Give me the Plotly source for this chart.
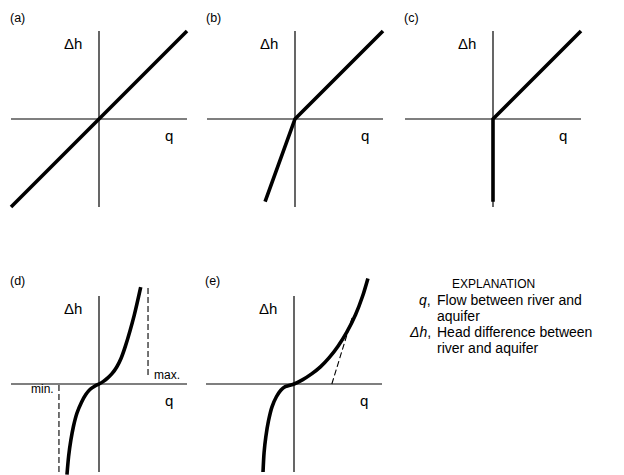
import plotly.graph_objects as go

# page has an 8px body margin, so the figure is drawn 8px in from the corner
OFF = 8
W, H = 624 - OFF, 475 - OFF
S = 88  # pixels per unit of q and of dh, same in every panel

# extent of the drawn q and dh axes
AX = [-1, 1]

# (a) linear relation
a_q = [-1, 1]
a_dh = [-1, 1]

# (b) steeper below zero
b_q = [-0.34, 0, 1]
b_dh = [-0.94, 0, 1]

# (c) no flow below zero
c_q = [0, 0, 1]
c_dh = [-0.94, 0, 1]

# (d) non-linear with limits
d_q = [-0.364, -0.345, -0.32, -0.29, -0.25, -0.2, -0.15, -0.1, -0.05, 0,
       0.05, 0.1, 0.15, 0.2, 0.25, 0.3, 0.4, 0.474]
d_dh = [-1.03, -0.82, -0.64, -0.48, -0.33, -0.21, -0.12, -0.06, -0.025, 0,
        0.03, 0.07, 0.12, 0.19, 0.29, 0.43, 0.78, 1.10]
d_max_q, d_max_dh = [0.557, 0.557], [1.09, 0.07]
d_min_q, d_min_dh = [-0.455, -0.455], [-0.01, -1.03]

# (e) non-linear with tangent
e_q = [-0.352, -0.34, -0.32, -0.29, -0.25, -0.2, -0.15, -0.1, -0.05, 0,
       0.1, 0.2, 0.3, 0.4, 0.5, 0.6, 0.7, 0.78, 0.84]
e_dh = [-1.0, -0.78, -0.6, -0.42, -0.26, -0.145, -0.07, -0.03, -0.015, 0,
        0.05, 0.115, 0.195, 0.3, 0.43, 0.59, 0.79, 1.0, 1.2]
e_tan_q, e_tan_dh = [0.43, 0.66], [0, 0.75]

# panel boxes in page pixels: (x0, x1, y0, y1, origin x, origin y)
panels = [
    (OFF, 200, OFF, 230, 99, 119),
    (200, 395, OFF, 230, 295, 119),
    (395, 624, OFF, 230, 493, 119),
    (OFF, 200, 250, 475, 99, 384),
    (200, 395, 250, 475, 294, 384),
]
letters = ["(a)", "(b)", "(c)", "(d)", "(e)"]
letter_y = [18, 18, 18, 281, 281]

FONT = "Liberation Sans, Arial, Helvetica, sans-serif"
thick = dict(color="black", width=3.6)
dashed = dict(color="black", width=1.1, dash="6px,3px")

fig = go.Figure()
layout = dict(width=W, height=H, margin=dict(l=0, r=0, t=0, b=0),
              paper_bgcolor="white", plot_bgcolor="white", showlegend=False,
              font=dict(family=FONT, color="black"))
shapes, annotations = [], []

for i, (x0, x1, y0, y1, ox, oy) in enumerate(panels):
    n = "" if i == 0 else str(i + 1)
    layout["xaxis" + n] = dict(domain=[(x0 - OFF) / W, (x1 - OFF) / W],
                               range=[(x0 - ox) / S, (x1 - ox) / S],
                               visible=False, fixedrange=True)
    layout["yaxis" + n] = dict(domain=[1 - (y1 - OFF) / H, 1 - (y0 - OFF) / H],
                               range=[(oy - y1) / S, (oy - y0) / S],
                               visible=False, fixedrange=True)
    xr, yr = "x" + n, "y" + n
    axline = dict(type="line", xref=xr, yref=yr, line=dict(color="black", width=1.2))
    shapes.append(dict(axline, x0=AX[0], x1=AX[1], y0=0, y1=0))
    shapes.append(dict(axline, x0=0, x1=0, y0=AX[0], y1=AX[1]))
    annotations += [
        dict(text=letters[i], xref=xr, yref=yr, x=-0.93, y=(oy - letter_y[i]) / S,
             showarrow=False, font=dict(size=12.5), xanchor="center", yanchor="middle"),
        dict(text="Δh", xref=xr, yref=yr, x=-0.3, y=0.86, showarrow=False,
             font=dict(size=15), xanchor="center", yanchor="middle"),
        dict(text="q", xref=xr, yref=yr, x=0.79, y=-0.19, showarrow=False,
             font=dict(size=15), xanchor="center", yanchor="middle"),
    ]

smooth = dict(thick, shape="spline", smoothing=0.8)
fig.add_trace(go.Scatter(x=a_q, y=a_dh, mode="lines", line=thick, xaxis="x", yaxis="y"))
fig.add_trace(go.Scatter(x=b_q, y=b_dh, mode="lines", line=thick, xaxis="x2", yaxis="y2"))
fig.add_trace(go.Scatter(x=c_q, y=c_dh, mode="lines", line=thick, xaxis="x3", yaxis="y3"))
fig.add_trace(go.Scatter(x=d_max_q, y=d_max_dh, mode="lines", line=dashed, xaxis="x4", yaxis="y4"))
fig.add_trace(go.Scatter(x=d_min_q, y=d_min_dh, mode="lines", line=dashed, xaxis="x4", yaxis="y4"))
fig.add_trace(go.Scatter(x=d_q, y=d_dh, mode="lines", line=smooth, xaxis="x4", yaxis="y4"))
fig.add_trace(go.Scatter(x=e_tan_q, y=e_tan_dh, mode="lines", line=dashed, xaxis="x5", yaxis="y5"))
fig.add_trace(go.Scatter(x=e_q, y=e_dh, mode="lines", line=smooth, xaxis="x5", yaxis="y5"))

# min / max labels in panel (d)
annotations += [
    dict(text="max.", xref="x4", yref="y4", x=0.6, y=0.1, showarrow=False,
         font=dict(size=12), xanchor="left", yanchor="middle"),
    dict(text="min.", xref="x4", yref="y4", x=-0.49, y=-0.06, showarrow=False,
         font=dict(size=12), xanchor="right", yanchor="middle"),
]


# explanation block, placed from page pixel positions
def px(x, y):
    return (x - OFF) / W, 1 - (y - OFF) / H


expl = [
    ("EXPLANATION", 493, 284, "center", 12),
    ("<i>q</i>,", 432, 300, "right", 14),
    ("Flow between river and", 436, 300, "left", 14),
    ("aquifer", 436, 316, "left", 14),
    ("<i>Δh</i>,", 432, 332, "right", 14),
    ("Head difference between", 436, 332, "left", 14),
    ("river and aquifer", 436, 348, "left", 14),
]
for txt, x, y, anc, size in expl:
    xp, yp = px(x, y)
    annotations.append(dict(text=txt, xref="paper", yref="paper", x=xp, y=yp,
                            showarrow=False, font=dict(size=size), borderpad=0,
                            xanchor=anc, yanchor="middle"))

layout["shapes"] = shapes
layout["annotations"] = annotations
fig.update_layout(**layout)
fig.write_html("out.html")
